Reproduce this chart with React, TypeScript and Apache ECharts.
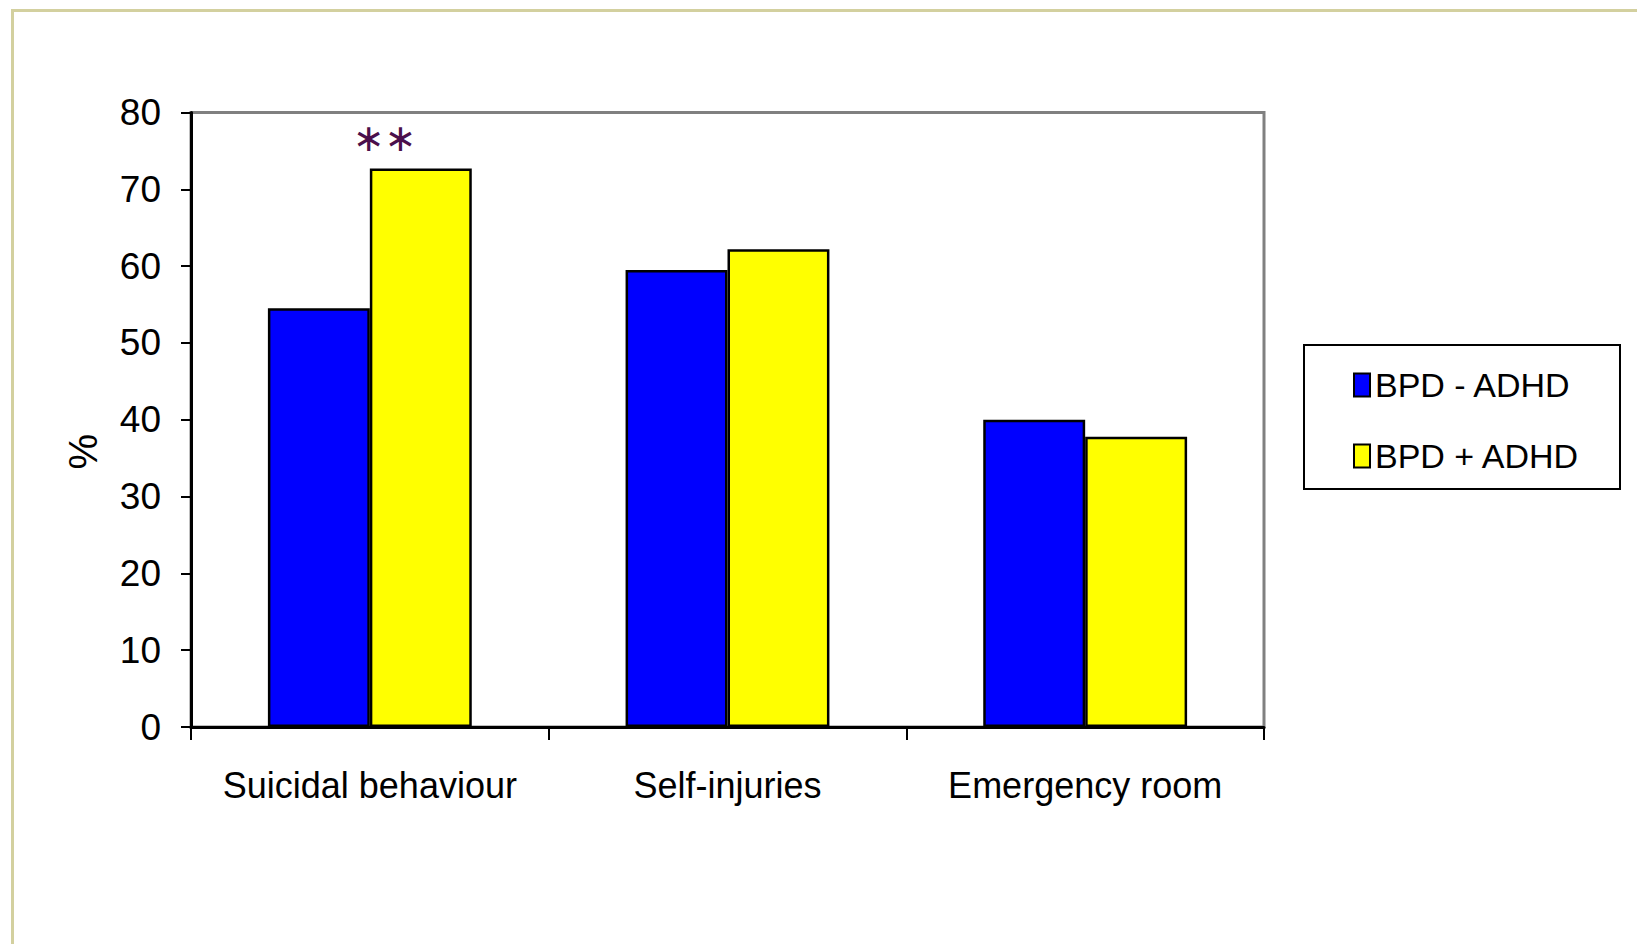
import React, { useEffect, useRef } from "react";
import * as echarts from "echarts";

// Categories and percentages per group
const categories = ["Suicidal behaviour", "Self-injuries", "Emergency room"];
const seriesNames = ["BPD - ADHD", "BPD + ADHD"];
const bpdWithoutAdhd = [54.5, 59.5, 40.0];
const bpdWithAdhd = [72.7, 62.2, 37.8];
const significance = ["∗∗", "", ""];
const yTicks = { min: 0, max: 80, interval: 10 };

const FONT = "'Liberation Sans Narrow', 'Arial Narrow', 'Liberation Sans', Arial, sans-serif";

export default function App() {
  const ref = useRef<HTMLDivElement>(null);

  useEffect(() => {
    document.body.style.margin = "0";
    const chart = echarts.init(ref.current!, null, { renderer: "svg" });

    const barStyle = (color: string) => ({
      color,
      borderColor: "#000000",
      borderWidth: 2.5,
    });

    chart.setOption({
      animation: false,
      backgroundColor: "#ffffff",
      textStyle: { fontFamily: FONT },
      graphic: [
        {
          type: "rect",
          left: 10,
          top: 8,
          shape: { x: 0, y: 0, width: 1700, height: 1000 },
          style: { fill: "none", stroke: "#d3d09f", lineWidth: 3 },
          silent: true,
        },
      ],
      grid: {
        left: 191,
        top: 112.5,
        right: 373,
        bottom: 217,
        show: true,
        borderColor: "#808080",
        borderWidth: 3,
        backgroundColor: "transparent",
      },
      legend: {
        orient: "vertical",
        left: 1304,
        top: 345,
        icon: "rect",
        itemWidth: 16,
        itemHeight: 23,
        itemGap: 31,
        padding: [20, 40, 13, 49],
        borderColor: "#000000",
        borderWidth: 2,
        textStyle: {
          fontFamily: FONT,
          fontSize: 34,
          lineHeight: 40,
          color: "#000000",
        },
        data: seriesNames,
      },
      xAxis: {
        type: "category",
        data: categories,
        axisLine: { lineStyle: { color: "#000000", width: 3 } },
        axisTick: { show: true, length: 13, lineStyle: { color: "#000000", width: 2 } },
        axisLabel: {
          fontFamily: FONT,
          fontSize: 36,
          color: "#000000",
          margin: 40,
          interval: 0,
        },
      },
      yAxis: {
        type: "value",
        min: yTicks.min,
        max: yTicks.max,
        interval: yTicks.interval,
        name: "%",
        nameLocation: "middle",
        nameRotate: 90,
        nameGap: 88,
        nameTextStyle: {
          fontFamily: FONT,
          fontSize: 40,
          color: "#000000",
          padding: [0, 64, 0, 0],
        },
        splitLine: { show: false },
        axisLine: { show: true, lineStyle: { color: "#000000", width: 3 } },
        axisTick: { show: true, length: 10, lineStyle: { color: "#000000", width: 2 } },
        axisLabel: {
          fontFamily: FONT,
          fontSize: 37,
          color: "#000000",
          margin: 30,
        },
      },
      series: [
        {
          name: seriesNames[0],
          type: "bar",
          data: bpdWithoutAdhd,
          barGap: "0%",
          barCategoryGap: "43%",
          itemStyle: barStyle("#0000ff"),
        },
        {
          name: seriesNames[1],
          type: "bar",
          data: bpdWithAdhd.map((v, i) => ({
            value: v,
            label: {
              show: significance[i] !== "",
              position: "top",
              distance: 12,
              offset: [-36, 0],
              formatter: significance[i],
              fontFamily: "'DejaVu Sans', sans-serif",
              fontSize: 38,
              color: "#4b0f4b",
            },
          })),
          barGap: "0%",
          barCategoryGap: "43%",
          itemStyle: barStyle("#ffff00"),
        },
      ],
    });

    return () => chart.dispose();
  }, []);

  return <div ref={ref} style={{ width: 1637, height: 944 }} />;
}
